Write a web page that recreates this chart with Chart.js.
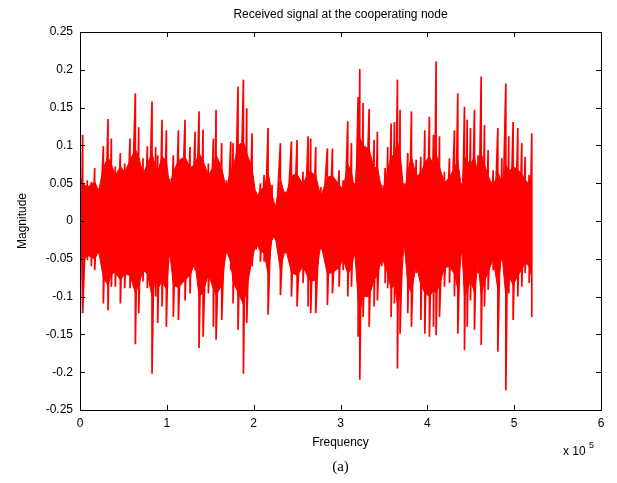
<!DOCTYPE html>
<html>
<head>
<meta charset="utf-8">
<script src="https://cdn.jsdelivr.net/npm/chart.js@4/dist/chart.umd.min.js"></script>
<style>
  html, body { margin: 0; padding: 0; background: #fff; }
  #wrap { width: 617px; height: 483px; }
</style>
</head>
<body>
<div id="wrap"><canvas id="sig" width="617" height="483"></canvas></div>
<script>
// Peaks, column by column (Hz, upper peak, lower peak)
const freqHz = [
    0, 3070, 8450, 13060, 16900, 21500, 26900, 32260, 36100, 40700, 46460, 51460, 57600, 63750, 67600, 72580, 77570, 82950,
    87170, 89480, 94470, 99460, 103300, 107500, 113300, 120970, 126700, 132500, 137100, 141700, 147850, 153600, 156700, 163200, 168600, 173600,
    176300, 182000, 188200, 192000, 198200, 202800, 207800, 212000, 216600, 221200, 225000, 230800, 236600, 243500, 250000, 256900, 262700,
    265700, 271500, 277300, 284900, 290700, 298400, 303000, 308400, 312600, 316400, 320300, 322200, 326000, 333000, 338700, 342500, 347500, 351400,
    354400, 358300, 362100, 365600, 368600, 373300, 377500, 381700, 387100, 392500, 397100, 402400, 407100, 410100, 414000, 419700, 425500, 431200, 435100, 439700,
    442800, 445900, 449700, 454300, 458500, 462000, 465800, 470000, 475800, 481200, 485800, 490400, 493800, 498800, 504200, 508800, 512600, 517300, 520300
];
const peakHigh = [
    0.124, 0.114, 0.054, 0.052, 0.070, 0.043, 0.099, 0.135, 0.109, 0.072, 0.090, 0.076, 0.109, 0.169, 0.124, 0.083, 0.099, 0.158,
    0.098, 0.087, 0.134, 0.120, 0.056, 0.087, 0.120, 0.134, 0.098, 0.118, 0.145, 0.121, 0.076, 0.109, 0.147, 0.103, 0.054, 0.105,
    0.103, 0.178, 0.187, 0.149, 0.116, 0.039, 0.050, 0.061, 0.123, 0.048, 0.019, 0.103, 0.039, 0.105, 0.107, 0.065, 0.112,
    0.109, 0.098, 0.045, 0.096, 0.096, 0.067, 0.054, 0.132, 0.103, 0.050, 0.164, 0.201, 0.156, 0.148, 0.107, 0.118, 0.048, 0.070,
    0.098, 0.129, 0.131, 0.187, 0.147, 0.050, 0.090, 0.145, 0.081, 0.085, 0.120, 0.138, 0.114, 0.211, 0.112, 0.065, 0.083, 0.120, 0.169, 0.050,
    0.151, 0.134, 0.123, 0.147, 0.087, 0.191, 0.127, 0.094, 0.067, 0.123, 0.083, 0.182, 0.112, 0.131, 0.123, 0.103, 0.085, 0.061, 0.116
];
const peakLow = [
    -0.140, -0.122, -0.052, -0.060, -0.065, -0.043, -0.109, -0.118, -0.087, -0.087, -0.109, -0.089, -0.089, -0.163, -0.122, -0.080, -0.089, -0.202,
    -0.100, -0.135, -0.113, -0.140, -0.047, -0.127, -0.131, -0.105, -0.096, -0.065, -0.168, -0.153, -0.096, -0.140, -0.157, -0.131, -0.043, -0.065,
    -0.109, -0.144, -0.202, -0.135, -0.060, -0.038, -0.054, -0.054, -0.124, -0.025, -0.025, -0.098, -0.043, -0.100, -0.113, -0.082, -0.113,
    -0.122, -0.122, -0.038, -0.111, -0.096, -0.087, -0.065, -0.100, -0.087, -0.047, -0.153, -0.210, -0.127, -0.140, -0.113, -0.105, -0.060, -0.082,
    -0.089, -0.127, -0.109, -0.195, -0.149, -0.034, -0.122, -0.140, -0.069, -0.131, -0.149, -0.153, -0.140, -0.151, -0.127, -0.087, -0.082, -0.100, -0.149, -0.043,
    -0.171, -0.140, -0.105, -0.144, -0.069, -0.164, -0.113, -0.091, -0.065, -0.173, -0.052, -0.224, -0.096, -0.131, -0.100, -0.087, -0.069, -0.082, -0.127
];

// edge of the dense red mass in each column (same columns as above)
const massHigh = [
    0.060, 0.050, 0.045, 0.048, 0.052, 0.040, 0.070, 0.085, 0.075, 0.060, 0.072, 0.065, 0.080, 0.095, 0.085, 0.062, 0.075, 0.090,
    0.070, 0.065, 0.085, 0.080, 0.045, 0.065, 0.080, 0.085, 0.070, 0.075, 0.090, 0.080, 0.060, 0.072, 0.088, 0.070, 0.042, 0.068,
    0.070, 0.100, 0.105, 0.090, 0.070, 0.032, 0.040, 0.045, 0.065, 0.035, 0.018, 0.055, 0.032, 0.060, 0.062, 0.048, 0.065,
    0.065, 0.060, 0.032, 0.058, 0.060, 0.048, 0.042, 0.075, 0.065, 0.040, 0.100, 0.110, 0.100, 0.095, 0.070, 0.072, 0.040, 0.050,
    0.068, 0.085, 0.088, 0.105, 0.090, 0.035, 0.065, 0.085, 0.060, 0.062, 0.078, 0.085, 0.075, 0.090, 0.072, 0.050, 0.058, 0.070, 0.080, 0.040,
    0.085, 0.080, 0.075, 0.085, 0.060, 0.090, 0.075, 0.060, 0.045, 0.065, 0.050, 0.075, 0.065, 0.072, 0.068, 0.062, 0.055, 0.048, 0.060
];
const massLow = [
    -0.060, -0.055, -0.045, -0.048, -0.050, -0.040, -0.075, -0.085, -0.070, -0.068, -0.078, -0.070, -0.072, -0.095, -0.085, -0.065, -0.070, -0.100,
    -0.075, -0.090, -0.080, -0.090, -0.040, -0.085, -0.088, -0.078, -0.072, -0.055, -0.100, -0.095, -0.070, -0.090, -0.098, -0.085, -0.038, -0.055,
    -0.080, -0.095, -0.110, -0.090, -0.050, -0.030, -0.040, -0.042, -0.070, -0.022, -0.022, -0.065, -0.035, -0.068, -0.072, -0.060, -0.075,
    -0.080, -0.078, -0.030, -0.070, -0.068, -0.062, -0.050, -0.070, -0.062, -0.040, -0.105, -0.120, -0.100, -0.100, -0.078, -0.072, -0.048, -0.060,
    -0.070, -0.090, -0.085, -0.110, -0.100, -0.028, -0.085, -0.095, -0.058, -0.085, -0.095, -0.100, -0.092, -0.095, -0.085, -0.062, -0.060, -0.070, -0.090, -0.036,
    -0.100, -0.092, -0.078, -0.095, -0.055, -0.098, -0.080, -0.068, -0.050, -0.090, -0.042, -0.100, -0.072, -0.085, -0.072, -0.065, -0.055, -0.060, -0.075
];

const xTicks = [0, 100000, 200000, 300000, 400000, 500000, 600000];
const yTicks = [-0.25, -0.2, -0.15, -0.1, -0.05, 0, 0.05, 0.1, 0.15, 0.2, 0.25];

const FONT = 'Liberation Sans, Arial, sans-serif';
const RED = '#ff0000';

// signal trace: each column goes up to its upper peak and down to its lower peak
const trace = [];
freqHz.forEach((f, i) => {
    trace.push({ x: f, y: peakHigh[i] });
    trace.push({ x: f, y: peakLow[i] });
});
const massTop = freqHz.map((f, i) => ({ x: f, y: massHigh[i] }));
const massBottom = freqHz.map((f, i) => ({ x: f, y: massLow[i] }));

// MATLAB style box with inward ticks, plus the extra texts
const matlabFrame = {
    id: 'matlabFrame',
    afterDraw(chart) {
        const ctx = chart.ctx;
        const a = chart.chartArea;
        const xs = chart.scales.x, ys = chart.scales.y;
        ctx.save();
        ctx.strokeStyle = '#000';
        ctx.lineWidth = 1;
        ctx.beginPath();
        xTicks.forEach(v => {
            const px = Math.round(xs.getPixelForValue(v)) + 0.5;
            ctx.moveTo(px, a.bottom); ctx.lineTo(px, a.bottom - 5);
            ctx.moveTo(px, a.top); ctx.lineTo(px, a.top + 5);
        });
        yTicks.forEach(v => {
            const py = Math.round(ys.getPixelForValue(v)) + 0.5;
            ctx.moveTo(a.left, py); ctx.lineTo(a.left + 5, py);
            ctx.moveTo(a.right, py); ctx.lineTo(a.right - 5, py);
        });
        ctx.stroke();
        ctx.strokeRect(Math.round(a.left) + 0.5, Math.round(a.top) + 0.5,
            Math.round(a.right - a.left), Math.round(a.bottom - a.top));

        ctx.fillStyle = '#000';
        ctx.textAlign = 'center';
        ctx.textBaseline = 'middle';
        ctx.font = '12px ' + FONT;
        const cx = (a.left + a.right) / 2;
        ctx.fillText('Received signal at the cooperating node', cx, 15);
        ctx.fillText('Frequency', cx, 443);
        ctx.save();
        ctx.translate(23, (a.top + a.bottom) / 2);
        ctx.rotate(-Math.PI / 2);
        ctx.fillText('Magnitude', 0, 0);
        ctx.restore();

        ctx.textAlign = 'left';
        ctx.fillText('x 10', 563, 452);
        ctx.font = '9px ' + FONT;
        ctx.fillText('5', 589, 446);

        ctx.textAlign = 'center';
        ctx.font = '15px Liberation Serif, Times New Roman, serif';
        ctx.fillText('(a)', cx, 467);
        ctx.restore();
    }
};

new Chart(document.getElementById('sig'), {
    type: 'line',
    data: {
        datasets: [
            {
                data: massTop,
                borderColor: RED,
                borderWidth: 1,
                pointRadius: 0,
                tension: 0,
                fill: false
            },
            {
                data: massBottom,
                borderColor: RED,
                backgroundColor: RED,
                borderWidth: 1,
                pointRadius: 0,
                tension: 0,
                fill: '-1'
            },
            {
                data: trace,
                borderColor: RED,
                borderWidth: 1.7,
                pointRadius: 0,
                tension: 0,
                fill: false
            }
        ]
    },
    options: {
        responsive: false,
        animation: false,
        parsing: false,
        layout: { padding: { top: 32, right: 16, left: 0, bottom: 0 } },
        plugins: { legend: { display: false }, tooltip: { enabled: false } },
        scales: {
            x: {
                type: 'linear',
                min: 0,
                max: 600000,
                afterBuildTicks: s => { s.ticks = xTicks.map(v => ({ value: v })); },
                afterFit: s => { s.height = 73; },
                grid: { display: false, drawTicks: false },
                border: { display: false },
                ticks: {
                    padding: 6,
                    color: '#000',
                    font: { family: FONT, size: 12 },
                    maxRotation: 0,
                    callback: v => String(v / 100000)
                }
            },
            y: {
                type: 'linear',
                min: -0.25,
                max: 0.25,
                afterBuildTicks: s => { s.ticks = yTicks.map(v => ({ value: v })); },
                afterFit: s => { s.width = 80; },
                grid: { display: false, drawTicks: false },
                border: { display: false },
                ticks: {
                    padding: 7,
                    color: '#000',
                    font: { family: FONT, size: 12 },
                    callback: v => String(+v.toFixed(2))
                }
            }
        }
    },
    plugins: [matlabFrame]
});
</script>
</body>
</html>
